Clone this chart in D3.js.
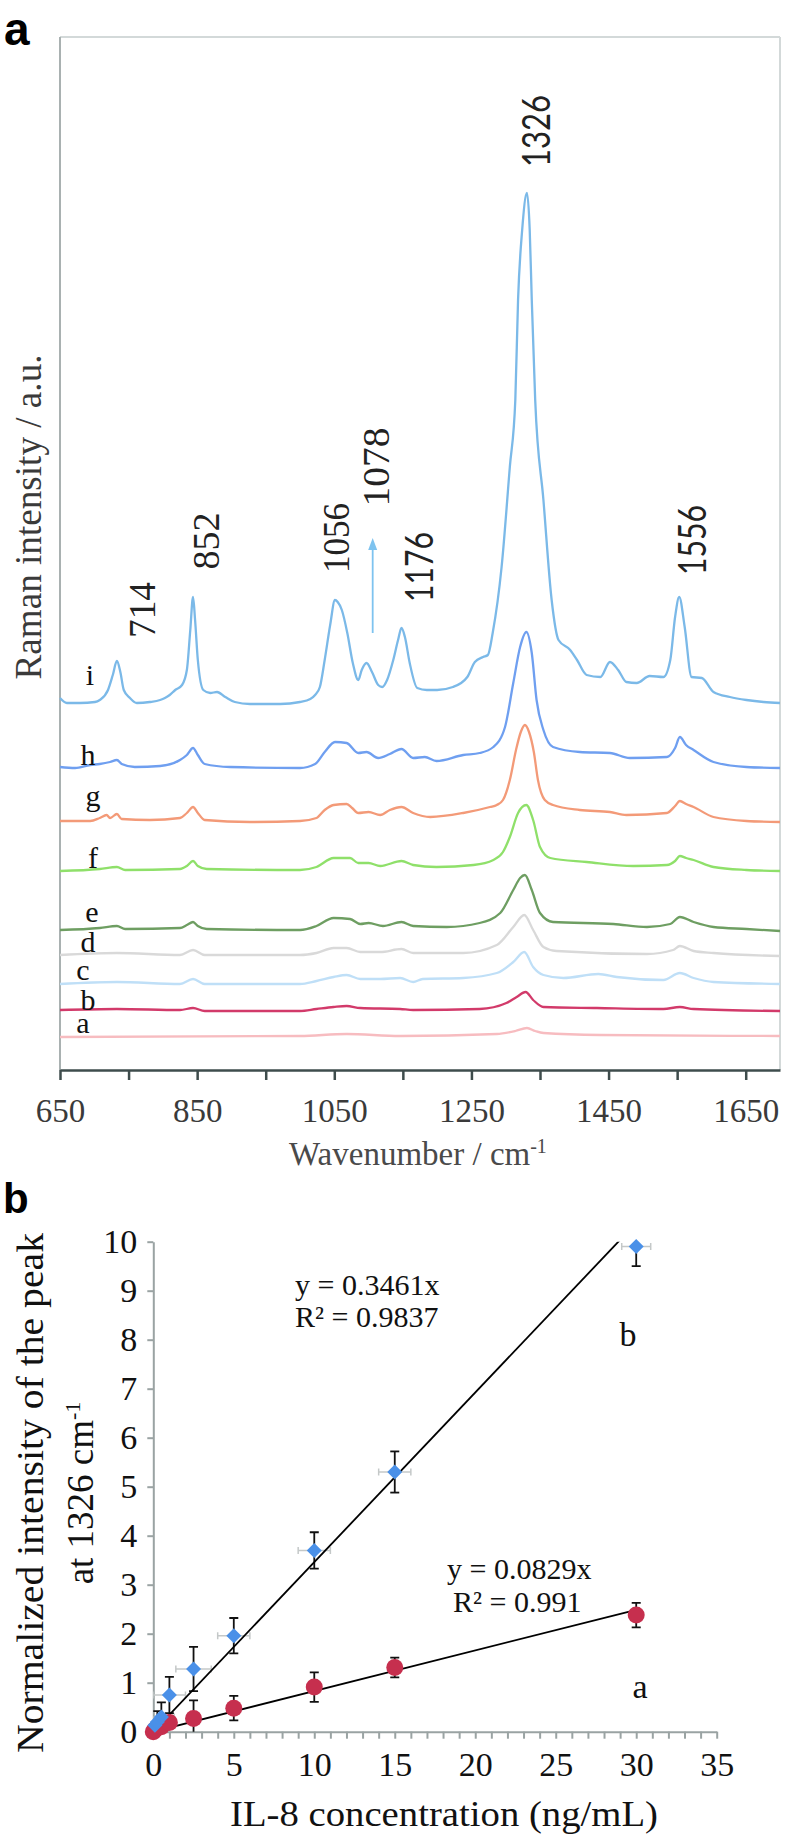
<!DOCTYPE html>
<html><head><meta charset="utf-8">
<script src="https://cdn.jsdelivr.net/npm/d3@7"></script>
<style>body{margin:0;background:#fff}</style>
</head><body>
<svg id="c" width="786" height="1839" xmlns="http://www.w3.org/2000/svg"></svg>
<script>
// ---------------- Panel a data: Raman spectra [wavenumber, intensity (stacked, a.u.)] ----------------
const waveTicks = [650, 750, 850, 950, 1050, 1150, 1250, 1350, 1450, 1550, 1650];
const waveLabels = [650, 850, 1050, 1250, 1450, 1650];
const spectrumNames = ["a", "b", "c", "d", "e", "f", "g", "h", "i"];
const spectrumColors = ["#f7bcc0", "#d23a6a", "#bfdff7", "#d9d9d9", "#6e9e62", "#8fe06a", "#f39a78", "#6f9ff0", "#7bb9e8"];

const spectrumA = [[650,33],[1000,34],[1068,36],[1146,34],[1287,36],[1314,39],[1331,42],[1343,39],[1355,37],[1438,35],[1700,34]];
const spectrumB = [[650,60],[733,61],[825,60],[844,62],[861,59],[1000,59],[1024,61],[1049,63],[1068,64],[1088,62],[1146,61],[1165,60],[1262,61],[1301,67],[1316,73],[1329,78],[1340,70],[1355,63],[1433,62],[1530,61],[1554,63],[1574,61],[1700,59]];
const spectrumC = [[650,86],[733,88],[825,86],[844,91],[861,86],[1000,86],[1024,89],[1049,93],[1068,95],[1088,91],[1117,91],[1146,92],[1165,88],[1179,91],[1238,92],[1287,97],[1311,108],[1327,118],[1340,103],[1355,95],[1384,92],[1435,96],[1462,93],[1530,90],[1554,97],[1574,92],[1603,88],[1700,86]];
const spectrumD = [[650,115],[733,117],[825,115],[844,120],[861,115],[1000,115],[1024,117],[1049,122],[1068,122],[1088,118],[1117,118],[1148,121],[1165,117],[1238,117],[1287,125],[1311,143],[1327,155],[1340,140],[1355,123],[1374,119],[1506,116],[1544,120],[1554,124],[1574,119],[1603,117],[1700,114]];
const spectrumE = [[650,140],[708,142],[733,144],[745,141],[825,142],[835,145],[844,148],[851,144],[864,141],[1000,140],[1024,144],[1049,152],[1073,151],[1088,146],[1100,147],[1121,144],[1148,148],[1165,144],[1214,143],[1262,147],[1292,157],[1311,180],[1321,192],[1328,195],[1338,180],[1350,157],[1369,148],[1457,146],[1506,143],[1540,146],[1554,153],[1574,148],[1603,143],[1651,141],[1700,139]];
const spectrumF = [[650,199],[708,201],[733,203],[745,200],[825,201],[835,204],[844,209],[851,204],[864,201],[1000,200],[1024,203],[1049,212],[1073,212],[1085,207],[1100,207],[1117,204],[1148,209],[1165,205],[1199,203],[1253,205],[1282,210],[1296,218],[1306,233],[1318,257],[1330,265],[1340,250],[1350,223],[1365,212],[1418,208],[1486,204],[1535,205],[1547,209],[1554,214],[1563,212],[1574,210],[1603,203],[1651,200],[1700,199]];
const spectrumG = [[650,249],[694,249],[708,252],[718,255],[723,252],[733,256],[740,251],[781,250],[825,252],[835,257],[844,263],[851,257],[861,250],[927,248],[1000,249],[1024,252],[1036,260],[1049,265],[1068,266],[1076,262],[1085,257],[1100,258],[1117,255],[1131,260],[1148,263],[1165,257],[1190,253],[1238,257],[1277,263],[1287,265],[1296,270],[1306,290],[1315,320],[1322,338],[1328,345],[1334,338],[1341,318],[1347,290],[1357,270],[1369,265],[1408,260],[1452,258],[1476,255],[1535,257],[1547,264],[1554,269],[1563,266],[1574,263],[1603,253],[1651,249],[1700,248]];
const spectrumH = [[650,303],[672,302],[694,305],[708,306],[723,308],[733,310],[740,306],[759,303],[796,304],[825,310],[835,315],[844,322],[851,315],[861,306],[898,303],[1000,302],[1022,306],[1036,318],[1051,328],[1068,327],[1085,317],[1097,318],[1114,312],[1131,316],[1148,321],[1165,312],[1182,313],[1199,309],[1238,315],[1262,317],[1282,323],[1299,343],[1311,387],[1321,423],[1330,438],[1338,417],[1345,370],[1355,340],[1369,323],[1408,318],[1452,317],[1481,312],[1535,313],[1547,322],[1554,333],[1563,325],[1574,320],[1603,308],[1651,303],[1700,302]];
const spectrumI = [[650,372],[660,367],[679,367],[701,368],[708,370],[720,380],[727,395],[733,409],[738,398],[743,380],[752,372],[762,367],[781,368],[796,370],[803,372],[810,375],[818,380],[828,385],[835,400],[840,440],[844,473],[847,450],[851,410],[859,380],[869,377],[879,378],[891,373],[905,368],[927,366],[971,366],[1000,368],[1015,371],[1022,375],[1029,383],[1036,410],[1044,445],[1051,470],[1055,468],[1061,460],[1069,437],[1077,407],[1085,390],[1090,400],[1097,407],[1105,398],[1114,385],[1120,383],[1127,390],[1136,410],[1143,430],[1148,442],[1153,433],[1160,407],[1171,382],[1185,380],[1200,380],[1223,383],[1244,393],[1255,408],[1267,413],[1274,415],[1281,437],[1294,503],[1306,603],[1314,670],[1318,770],[1324,840],[1331,877],[1335,840],[1338,770],[1343,670],[1355,570],[1367,470],[1377,430],[1394,420],[1404,410],[1418,395],[1438,393],[1452,408],[1464,400],[1476,388],[1491,387],[1510,394],[1530,393],[1540,410],[1547,453],[1553,473],[1561,443],[1571,393],[1586,392],[1603,378],[1627,373],[1651,370],[1676,368],[1700,367]];
const spectra = [spectrumA, spectrumB, spectrumC, spectrumD, spectrumE, spectrumF, spectrumG, spectrumH, spectrumI];

// peak annotations: text, wavenumber position, intensity position
const peakTexts = ["714", "852", "1056", "1078", "1176", "1326", "1556"];
const peakWn = [769, 863, 1052, 1111, 1172, 1343, 1570];
const peakInt = [460, 529, 532, 603, 503, 939, 530];
const peakSerif = [true, true, true, true, false, false, false];
const arrowWn = 1106, arrowFrom = 437, arrowTo = 532;

// ---------------- Panel b data ----------------
const concA = [0, 0.1, 0.5, 1, 2.5, 5, 10, 15, 30];
const intensA = [0, 0.04, 0.1, 0.19, 0.27, 0.48, 0.91, 1.31, 2.38];
const errA = [0, 0.04, 0.08, 0.12, 0.37, 0.25, 0.3, 0.2, 0.25];
const concB = [0.1, 0.25, 0.5, 1, 2.5, 5, 10, 15, 30];
const intensB = [0.13, 0.2, 0.3, 0.75, 1.28, 1.96, 3.7, 5.3, 9.9];
const errB = [0.1, 0.22, 0.3, 0.37, 0.45, 0.36, 0.37, 0.42, 0.4];
const xErrB = [0.3, 0.5, 0.8, 1, 1.1, 1, 1, 1, 0.9];
const slopeA = 0.0829, slopeB = 0.3461;
const concTicks = d3.range(0, 36, 1);
const concLabels = [0, 5, 10, 15, 20, 25, 30, 35];
const intTicks = d3.range(0, 11, 1);

// ---------------- Drawing ----------------
const svg = d3.select('#c');
svg.append('rect').attr('width', 786).attr('height', 1839).attr('fill', '#fff');
const SERIF = "'Liberation Serif','Times New Roman',serif";
const SANS = "'Liberation Sans',Arial,sans-serif";

// Panel a
const xA = d3.scaleLinear().domain([650, 1700]).range([60, 780]);
const yA = d3.scaleLinear().domain([0, 1033]).range([1070, 37]);

svg.append('text').attr('x', 4).attr('y', 45).attr('font-family', SANS).attr('font-weight', 'bold')
  .attr('font-size', 46).attr('fill', '#000').text('a');

// frame
svg.append('line').attr('x1', xA(650)).attr('x2', xA(1700)).attr('y1', yA(1033)).attr('y2', yA(1033)).attr('stroke', '#d3d9d9').attr('stroke-width', 2);
svg.append('line').attr('x1', xA(1700)).attr('x2', xA(1700)).attr('y1', yA(1033)).attr('y2', yA(0)).attr('stroke', '#d3d9d9').attr('stroke-width', 2);
svg.append('line').attr('x1', xA(650)).attr('x2', xA(650)).attr('y1', yA(1033)).attr('y2', yA(0)).attr('stroke', '#a9b1b1').attr('stroke-width', 2);

const gxA = svg.append('g').attr('transform', `translate(0,${yA(0)})`)
  .call(d3.axisBottom(xA).tickValues(waveTicks).tickFormat(d => waveLabels.includes(d) ? d : '')
    .tickSize(10).tickSizeOuter(0).tickPadding(19));
gxA.select('.domain').attr('stroke', '#3e4c4c').attr('stroke-width', 2.5);
gxA.selectAll('.tick line').attr('stroke', '#3e4c4c').attr('stroke-width', 2.5);
gxA.selectAll('.tick text').attr('font-family', SERIF).attr('font-size', 33).attr('fill', '#3a3a3a');

const xtA = svg.append('text').attr('x', 418).attr('y', 1165).attr('text-anchor', 'middle')
  .attr('font-family', SERIF).attr('font-size', 33).attr('fill', '#4a4a4a');
xtA.append('tspan').text('Wavenumber / cm');
xtA.append('tspan').attr('dy', -12).attr('font-size', 20).text('-1');

svg.append('text').attr('transform', 'translate(41,517) rotate(-90)').attr('text-anchor', 'middle')
  .attr('font-family', SERIF).attr('font-size', 37).attr('fill', '#3a3a3a')
  .attr('textLength', 325).attr('lengthAdjust', 'spacingAndGlyphs').text('Raman intensity / a.u.');

const line = d3.line().x(d => xA(d[0])).y(d => yA(d[1])).curve(d3.curveMonotoneX);
spectra.forEach((s, i) => {
  svg.append('path').attr('d', line(s)).attr('fill', 'none').attr('stroke', spectrumColors[i])
    .attr('stroke-width', 2.3).attr('stroke-linejoin', 'round');
});

// spectrum letters (x center, baseline y in px)
const letterPos = [[83, 1033], [88, 1010], [83, 980], [88, 952], [92, 922], [93, 868], [93, 806], [88, 765], [90, 685]];
spectrumNames.forEach((n, i) => {
  svg.append('text').attr('x', letterPos[i][0]).attr('y', letterPos[i][1]).attr('text-anchor', 'middle')
    .attr('font-family', SERIF).attr('font-size', 30).attr('fill', '#111').text(n);
});

// peak labels
const peakLen = [56, 57, 70, 79, 70, 72, 70];
peakTexts.forEach((t, i) => {
  svg.append('text').attr('transform', `translate(${xA(peakWn[i])},${yA(peakInt[i])}) rotate(-90)`)
    .attr('text-anchor', 'middle').attr('dominant-baseline', 'central')
    .attr('font-family', peakSerif[i] ? SERIF : "Lato,'Open Sans',sans-serif")
    .attr('font-size', peakSerif[i] ? 38 : 38).attr('fill', '#222')
    .attr('textLength', peakLen[i]).attr('lengthAdjust', 'spacingAndGlyphs').text(t);
});

// arrow
svg.append('line').attr('x1', xA(arrowWn)).attr('x2', xA(arrowWn)).attr('y1', yA(arrowFrom)).attr('y2', yA(arrowTo) + 10)
  .attr('stroke', '#7ec3ef').attr('stroke-width', 1.8);
const ax = xA(arrowWn), ay = yA(arrowTo);
svg.append('path').attr('d', `M${ax},${ay} L${ax + 4.5},${ay + 12} L${ax - 4.5},${ay + 12} Z`).attr('fill', '#7ec3ef');

// Panel b
const xB = d3.scaleLinear().domain([0, 35]).range([153.3, 716.7]);
const yB = d3.scaleLinear().domain([0, 10]).range([1731.7, 1241.7]);

svg.append('text').attr('x', 3).attr('y', 1213).attr('font-family', SANS).attr('font-weight', 'bold')
  .attr('font-size', 42).attr('fill', '#000').text('b');

const gxB = svg.append('g').attr('transform', `translate(0,${yB(0)})`)
  .call(d3.axisBottom(xB).tickValues(concTicks).tickFormat(d => concLabels.includes(d) ? d : '')
    .tickSize(7).tickSizeOuter(0).tickPadding(13));
const gyB = svg.append('g').attr('transform', `translate(${xB(0)},0)`)
  .call(d3.axisLeft(yB).tickValues(intTicks).tickSize(6).tickSizeOuter(0).tickPadding(10));
[gxB, gyB].forEach(g => {
  g.select('.domain').attr('stroke', '#9aa3a3').attr('stroke-width', 2);
  g.selectAll('.tick line').attr('stroke', '#9aa3a3').attr('stroke-width', 2);
  g.selectAll('.tick text').attr('font-family', SERIF).attr('font-size', 34).attr('fill', '#111');
});

svg.append('text').attr('x', 444).attr('y', 1826).attr('text-anchor', 'middle')
  .attr('font-family', SERIF).attr('font-size', 35).attr('fill', '#111')
  .attr('textLength', 428).attr('lengthAdjust', 'spacingAndGlyphs').text('IL-8 concentration (ng/mL)');

svg.append('text').attr('transform', 'translate(43,1493) rotate(-90)').attr('text-anchor', 'middle')
  .attr('font-family', SERIF).attr('font-size', 37).attr('fill', '#111')
  .attr('textLength', 520).attr('lengthAdjust', 'spacingAndGlyphs').text('Normalized intensity of  the peak');
const yt2 = svg.append('text').attr('transform', 'translate(93,1493) rotate(-90)').attr('text-anchor', 'middle')
  .attr('font-family', SERIF).attr('font-size', 37).attr('fill', '#111');
yt2.append('tspan').text('at 1326 cm');
yt2.append('tspan').attr('dy', -13).attr('font-size', 22).text('-1');

const defs = svg.append('defs');
defs.append('clipPath').attr('id', 'plotB').append('rect')
  .attr('x', xB(0)).attr('y', yB(10)).attr('width', xB(35) - xB(0)).attr('height', yB(0) - yB(10));
const gB = svg.append('g').attr('clip-path', 'url(#plotB)');

// horizontal error bars (series b)
concB.forEach((c, i) => {
  const y = yB(intensB[i]);
  gB.append('line').attr('x1', xB(c - xErrB[i])).attr('x2', xB(c + xErrB[i])).attr('y1', y).attr('y2', y)
    .attr('stroke', '#c4c8c8').attr('stroke-width', 1.5);
  [c - xErrB[i], c + xErrB[i]].forEach(xx => gB.append('line').attr('x1', xB(xx)).attr('x2', xB(xx))
    .attr('y1', y - 3.5).attr('y2', y + 3.5).attr('stroke', '#c4c8c8').attr('stroke-width', 1.5));
});
// vertical error bars
function vErr(conc, val, err) {
  conc.forEach((c, i) => {
    if (err[i] <= 0) return;
    const x = xB(c);
    gB.append('line').attr('x1', x).attr('x2', x).attr('y1', yB(val[i] - err[i])).attr('y2', yB(val[i] + err[i]))
      .attr('stroke', '#111').attr('stroke-width', 1.8);
    [val[i] - err[i], val[i] + err[i]].forEach(v => gB.append('line').attr('x1', x - 4.5).attr('x2', x + 4.5)
      .attr('y1', yB(v)).attr('y2', yB(v)).attr('stroke', '#111').attr('stroke-width', 1.8));
  });
}
vErr(concA, intensA, errA);
vErr(concB, intensB, errB);

// markers
concA.forEach((c, i) => {
  svg.append('circle').attr('cx', xB(c)).attr('cy', yB(intensA[i])).attr('r', 8.5).attr('fill', '#c62f4e');
});
concB.forEach((c, i) => {
  const x = xB(c), y = yB(intensB[i]);
  svg.append('path').attr('d', `M${x},${y - 7.5} L${x + 7.5},${y} L${x},${y + 7.5} L${x - 7.5},${y} Z`).attr('fill', '#4a90e8');
});

// trendlines
[slopeA, slopeB].forEach(s => {
  gB.append('line').attr('x1', xB(0)).attr('y1', yB(0)).attr('x2', xB(30)).attr('y2', yB(s * 30))
    .attr('stroke', '#000').attr('stroke-width', 1.8);
});

// annotations
function txt(x, y, t, anchor) {
  svg.append('text').attr('x', x).attr('y', y).attr('text-anchor', anchor || 'start')
    .attr('font-family', SERIF).attr('font-size', 30).attr('fill', '#111').text(t);
}
txt(295, 1295, 'y = 0.3461x');
txt(295, 1327, 'R² = 0.9837');
txt(447, 1579, 'y = 0.0829x');
txt(453, 1612, 'R² = 0.991');
svg.append('text').attr('x', 628).attr('y', 1346).attr('text-anchor', 'middle').attr('font-family', SERIF)
  .attr('font-size', 34).attr('fill', '#111').text('b');
svg.append('text').attr('x', 640).attr('y', 1698).attr('text-anchor', 'middle').attr('font-family', SERIF)
  .attr('font-size', 34).attr('fill', '#111').text('a');
</script>
</body></html>
